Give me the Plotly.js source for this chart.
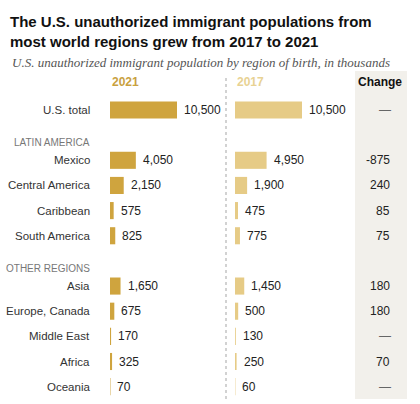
<!DOCTYPE html>
<html>
<head>
<meta charset="utf-8">
<script src="https://cdn.plot.ly/plotly-3.0.1.min.js"></script>
<style>html,body{margin:0;padding:0;background:#fff;}#chart{width:420px;height:404px;}</style>
</head>
<body>
<div id="chart"></div>
<script>
// ---- Data ----
const regions = ['U.S. total','Mexico','Central America','Caribbean','South America','Asia','Europe, Canada','Middle East','Africa','Oceania'];
const regionGroups = ['','LATIN AMERICA','LATIN AMERICA','LATIN AMERICA','LATIN AMERICA','OTHER REGIONS','OTHER REGIONS','OTHER REGIONS','OTHER REGIONS','OTHER REGIONS'];
const values2021 = [10500, 4050, 2150, 575, 825, 1650, 675, 170, 325, 70];
const values2017 = [10500, 4950, 1900, 475, 775, 1450, 500, 130, 250, 60];
const changeLabels = ['—', '-875', '240', '85', '75', '180', '180', '—', '70', '—'];
const seriesNames = ['2021', '2017'];
const changeHeader = 'Change';
const titleText = 'The U.S. unauthorized immigrant populations from<br>most world regions grew from 2017 to 2021';
const subtitleText = 'U.S. unauthorized immigrant population by region of birth, in thousands';

// ---- Layout constants ----
const W = 420, H = 404;
const rowTop = 110, rowStep = 25.15;
const pxPerUnit = 67 / 10500;
const col1 = 110, col2 = 235, colW = 110;
const dark = '#cfa43e', light = '#e6cb86';
const fmt = v => v.toLocaleString('en-US');

// row index: one step per row, one extra step when a new group starts
const rowPos = [];
const groupHeads = [];
let r = 0;
regions.forEach((name, i) => {
  if (i > 0) {
    r += 1;
    if (regionGroups[i] !== regionGroups[i - 1]) {
      r += 1;
      groupHeads.push({text: regionGroups[i], y: r - 0.7});
    }
  }
  rowPos.push(r);
});

const baseFont = 'Liberation Sans, Arial, sans-serif';
const traces = [
  {type: 'bar', orientation: 'h', x: values2021, y: rowPos, xaxis: 'x', yaxis: 'y',
   width: 0.68, marker: {color: dark}, hoverinfo: 'skip', name: seriesNames[0]},
  {type: 'bar', orientation: 'h', x: values2017, y: rowPos, xaxis: 'x2', yaxis: 'y',
   width: 0.68, marker: {color: light}, hoverinfo: 'skip', name: seriesNames[1]}
];

const annotations = [];
// subtitle
annotations.push({xref: 'paper', yref: 'paper', x: 10 / W, y: 1 - 62 / H, xanchor: 'left', yanchor: 'middle',
  text: subtitleText, showarrow: false,
  font: {family: 'Liberation Serif, Times New Roman, serif', size: 13, style: 'italic', color: '#555'}});
// column headers
annotations.push({xref: 'paper', yref: 'paper', x: col1 / W, y: 1 - 82 / H, xanchor: 'left', yanchor: 'middle',
  text: '<b>' + seriesNames[0] + '</b>', showarrow: false, font: {family: baseFont, size: 12, color: '#c9a13f'}});
annotations.push({xref: 'paper', yref: 'paper', x: col2 / W, y: 1 - 82 / H, xanchor: 'left', yanchor: 'middle',
  text: '<b>' + seriesNames[1] + '</b>', showarrow: false, font: {family: baseFont, size: 12, color: '#e8d293'}});
annotations.push({xref: 'paper', yref: 'paper', x: 380 / W, y: 1 - 82 / H, xanchor: 'center', yanchor: 'middle',
  text: '<b>' + changeHeader + '</b>', showarrow: false, font: {family: baseFont, size: 12, color: '#111'}});
// group headers
groupHeads.forEach(g => annotations.push({xref: 'paper', yref: 'y', x: 92 / W, y: g.y, xanchor: 'right', yanchor: 'middle',
  text: g.text, showarrow: false, font: {family: baseFont, size: 10, color: '#777'}}));
// rows
regions.forEach((name, i) => {
  annotations.push({xref: 'paper', yref: 'y', x: 92 / W, y: rowPos[i], xanchor: 'right', yanchor: 'middle',
    text: name, showarrow: false, font: {family: baseFont, size: 11.5, color: '#333'}});
  annotations.push({xref: 'x', yref: 'y', x: values2021[i], y: rowPos[i], xanchor: 'left', yanchor: 'middle', xshift: 5,
    text: fmt(values2021[i]), showarrow: false, font: {family: baseFont, size: 12, color: '#222'}});
  annotations.push({xref: 'x2', yref: 'y', x: values2017[i], y: rowPos[i], xanchor: 'left', yanchor: 'middle', xshift: 5,
    text: fmt(values2017[i]), showarrow: false, font: {family: baseFont, size: 12, color: '#222'}});
  const isDash = changeLabels[i] === '—';
  annotations.push({xref: 'paper', yref: 'y', x: (isDash ? 385 : 392) / W, y: rowPos[i],
    xanchor: isDash ? 'center' : 'right', yanchor: 'middle',
    text: changeLabels[i], showarrow: false, font: {family: baseFont, size: 12, color: isDash ? '#666' : '#222'}});
});

const hiddenX = {showgrid: false, zeroline: false, showticklabels: false, ticks: '', showline: false, fixedrange: true};
const layout = {
  width: W, height: H,
  margin: {l: 0, r: 0, t: 0, b: 0, pad: 0},
  paper_bgcolor: '#fff', plot_bgcolor: 'rgba(0,0,0,0)',
  showlegend: false,
  title: {text: titleText, x: 10 / W, xanchor: 'left', xref: 'container', y: 1 - 27 / H, yanchor: 'top', yref: 'container',
    font: {family: baseFont, size: 15, weight: 'bold', color: '#111'}},
  xaxis: Object.assign({domain: [col1 / W, (col1 + colW) / W], range: [0, colW / pxPerUnit], anchor: 'y'}, hiddenX),
  xaxis2: Object.assign({domain: [col2 / W, (col2 + colW) / W], range: [0, colW / pxPerUnit], anchor: 'y'}, hiddenX),
  yaxis: {range: [(H - rowTop) / rowStep, -rowTop / rowStep], showgrid: false, zeroline: false, showticklabels: false,
    ticks: '', showline: false, fixedrange: true},
  shapes: [
    {type: 'rect', xref: 'paper', yref: 'paper', x0: 355 / W, x1: 407 / W, y0: 1 - 399 / H, y1: 1 - 71 / H,
     fillcolor: '#f2f0eb', line: {width: 0}, layer: 'below'},
    {type: 'line', xref: 'paper', yref: 'paper', x0: 226 / W, x1: 226 / W, y0: 1 - 399 / H, y1: 1 - 77 / H,
     line: {color: '#b5b5b5', width: 1.2, dash: 'dot'}, layer: 'below'}
  ],
  annotations: annotations,
  font: {family: baseFont}
};

Plotly.newPlot('chart', traces, layout, {displayModeBar: false, staticPlot: true});
</script>
</body>
</html>
